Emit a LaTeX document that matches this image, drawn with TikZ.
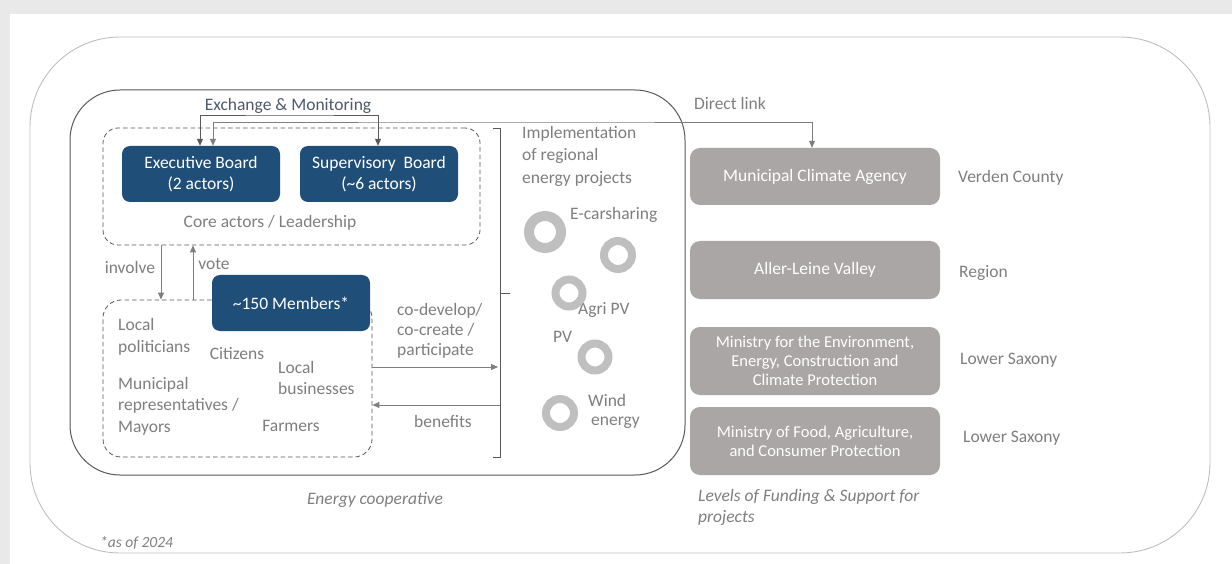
\documentclass[tikz,border=0pt]{standalone}
\usepackage{fontspec}
\setmainfont{Carlito}
\usetikzlibrary{arrows.meta}
\definecolor{navy}{HTML}{1F4E79}
\definecolor{boxgray}{HTML}{A9A6A5}
\definecolor{txtgray}{HTML}{7F7F7F}
\definecolor{dkgray}{HTML}{595959}
\definecolor{exgray}{HTML}{4D5A6B}
\definecolor{ringgray}{HTML}{BFBFBF}
\definecolor{shadowgray}{HTML}{E9E9E9}
\tikzset{
  base/.style={font=\fontsize{17.5}{21.5}\selectfont, text=txtgray, inner sep=0pt},
  lbl/.style={base, align=left, anchor=west},
  bluebox/.style={fill=navy, rounded corners=8pt, minimum width=158pt, minimum height=56pt, text=white, align=center, font=\fontsize{17.5}{21.5}\selectfont, inner sep=0pt},
  graybox/.style={fill=boxgray, rounded corners=10pt, minimum width=250pt, text=white, align=center, inner sep=0pt},
  dashbox/.style={draw=dkgray, line width=0.8pt, dash pattern=on 4.5pt off 3pt},
  arr/.style={draw=dkgray, line width=0.9pt, -{Triangle[length=7pt,width=6pt]}},
  darr/.style={draw=dkgray, line width=0.9pt, {Triangle[length=7pt,width=6pt]}-{Triangle[length=7pt,width=6pt]}},
  ring/.style={draw=ringgray, line width=8pt},
}
\begin{document}
\begin{tikzpicture}[x=1pt,y=-1pt]
\useasboundingbox (0,0) rectangle (1232,564);
\fill[shadowgray] (0,0) rectangle (1232,564);
\fill[white] (10,14) rectangle (1232,564);
% outer frame
\node[draw=ringgray, line width=0.9pt, rounded corners=90pt, minimum width=1180pt, minimum height=516pt, inner sep=0pt] (outer) at (620,295) {};
% energy cooperative
\node[draw=dkgray, line width=1pt, rounded corners=50pt, minimum width=615pt, minimum height=385pt, inner sep=0pt] (coop) at (377.5,282.5) {};
% core dashed box
\node[dashbox, rounded corners=15pt, minimum width=377pt, minimum height=117pt, inner sep=0pt] (core) at (291.5,186.5) {};
% members dashed box
\node[dashbox, rounded corners=18pt, minimum width=269pt, minimum height=157pt, inner sep=0pt] (memb) at (237.5,378.5) {};
% blue boxes
\node[bluebox] (exec) at (201,174) {Executive Board\\(2 actors)};
\node[bluebox] (super) at (379,174) {Supervisory\ \ Board\\(\textasciitilde 6 actors)};
\node[bluebox] (members) at (291,303) {\textasciitilde 150 Members*};
% gray boxes
\node[graybox, minimum height=57pt, font=\fontsize{17.5}{21}\selectfont] (mca) at (815,176.5) {Municipal Climate Agency};
\node[graybox, minimum height=58pt, font=\fontsize{17.5}{21}\selectfont] (alv) at (815,270) {Aller-Leine Valley};
\node[graybox, minimum height=68pt, font=\fontsize{16.5}{19}\selectfont] (envmin) at (815,361) {Ministry for the Environment,\\Energy, Construction and\\Climate Protection};
\node[graybox, minimum height=68pt, font=\fontsize{16.5}{19}\selectfont] (foodmin) at (815,441) {Ministry of Food, Agriculture,\\and Consumer Protection};
% labels right
\node[lbl] (lvc) at (958,178) {Verden County};
\node[lbl] (lreg) at (959,273) {Region};
\node[lbl] (lls1) at (960,360) {Lower Saxony};
\node[lbl] (lls2) at (963,438) {Lower Saxony};
\node[lbl, font=\itshape\fontsize{17.5}{21}\selectfont] (levels) at (698,507) {Levels of Funding \& Support for\\projects};
% top labels
\node[base, text=exgray] (exch) at (288,106) {Exchange \& Monitoring};
\node[base] (dlink) at (730,103) {Direct link};
\node[base] (corelbl) at (270,223) {Core actors / Leadership};
% member labels
\node[base] (involve) at (130,267) {involve};
\node[base] (vote) at (214,264) {vote};
\node[lbl] (locpol) at (118,337) {Local\\politicians};
\node[base] (citizens) at (237,354) {Citizens};
\node[lbl] (locbus) at (278,378) {Local\\businesses};
\node[lbl] (munrep) at (118,406) {Municipal\\representatives /\\Mayors};
\node[base] (farmers) at (291,426) {Farmers};
\node[lbl, font=\fontsize{17.5}{20}\selectfont] (codev) at (397,331) {co-develop/\\co-create /\\participate};
\node[base] (benefits) at (443,421) {benefits};
% projects
\node[lbl, font=\fontsize{17.5}{22.5}\selectfont] (impl) at (522,156) {Implementation\\of regional\\energy projects};
\node[lbl] (ecar) at (570,215) {E-carsharing};
\node[lbl] (agri) at (578,310) {Agri PV};
\node[lbl] (pv) at (553,337) {PV};
\node[lbl, font=\fontsize{17.5}{19}\selectfont] (wind) at (588,411) {Wind\\\hspace*{3pt}energy};
\node[base, font=\itshape\fontsize{17.5}{21}\selectfont] (coopl) at (375,500) {Energy cooperative};
\node[lbl, font=\itshape\fontsize{15.5}{19}\selectfont] (asof) at (100,543) {*as of 2024};
% rings
\draw[ring, line width=10pt] (545,232) circle (16);
\draw[ring] (618,255) circle (14);
\draw[ring] (569,293) circle (13.5);
\draw[ring] (595,357) circle (13.5);
\draw[ring] (560,413) circle (14);
% bracket
\coordinate (bt) at (500,128);
\coordinate (bb) at (500,457);
\coordinate (bm) at (500,293);
\draw[dkgray, line width=0.9pt] ([xshift=-7pt]bt) -- (bt) -- (bb) -- ([xshift=-7pt]bb);
\draw[dkgray, line width=0.9pt] (bm) -- ++(10,0);
% arrows
\draw[darr] ([xshift=-1pt]exec.north) |- (290,115) -| ([xshift=-1pt]super.north);
\draw[darr, draw=txtgray] ([xshift=12pt]exec.north) |- (500,122) -| ([xshift=-3pt]mca.north);
\draw[arr, draw=txtgray] ([xshift=-130.5pt]core.south) -- ([xshift=-76.5pt]memb.north);
\draw[arr, draw=txtgray] ([xshift=-44.5pt]memb.north) -- ([xshift=-98.5pt]core.south);
\coordinate (cotip) at (498,367);
\coordinate (benstart) at (500,405);
\draw[arr, draw=txtgray] ([yshift=11.5pt]memb.east) -- (cotip);
\draw[arr, draw=txtgray] (benstart) -- ([yshift=-26.5pt]memb.east);
\end{tikzpicture}
\end{document}
